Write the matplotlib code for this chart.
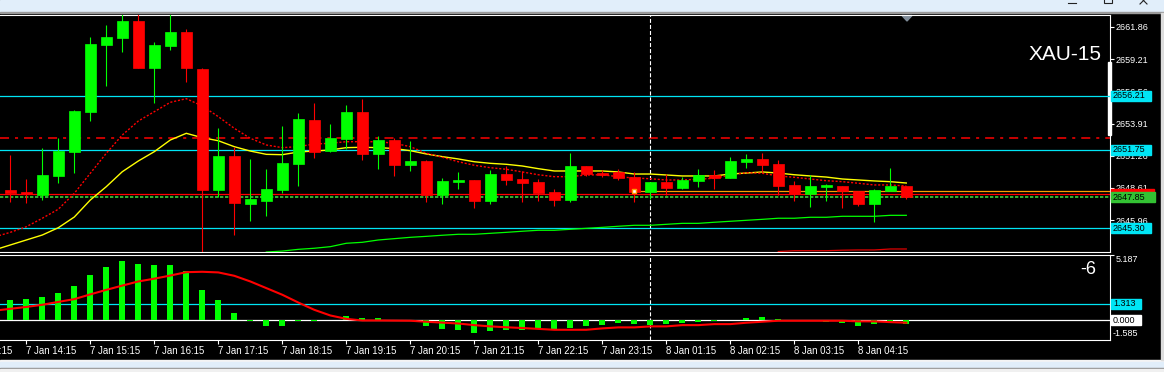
import matplotlib
matplotlib.use('Agg')
import matplotlib.pyplot as plt
from matplotlib.patches import Rectangle, Polygon
from matplotlib.transforms import blended_transform_factory
import numpy as np

plt.rcParams['font.family'] = ['Liberation Sans', 'DejaVu Sans']
plt.rcParams['lines.scale_dashes'] = False

# ---- data (XAU 15 min) ----
opens = [2648.44, 2648.28, 2648.03, 2649.62, 2651.60, 2654.89, 2660.40, 2660.98, 2662.35, 2658.51,
         2660.30, 2661.45, 2658.40, 2648.44, 2651.24, 2647.32, 2647.56, 2648.44, 2650.59, 2654.21,
         2651.68, 2652.64, 2654.86, 2651.43, 2652.56, 2650.53, 2650.83, 2648.06, 2649.13, 2649.27,
         2647.56, 2649.76, 2649.35, 2649.10, 2648.28, 2647.65, 2650.42, 2649.87, 2649.93, 2649.51,
         2648.30, 2649.10, 2648.63, 2649.21, 2649.68, 2649.46, 2650.75, 2651.00, 2650.59, 2648.86,
         2648.11, 2648.72, 2648.77, 2648.36, 2647.32, 2648.36, 2648.80]
closes = [2648.22, 2648.11, 2649.68, 2651.65, 2654.95, 2660.46, 2661.04, 2662.35, 2658.51, 2660.38,
          2661.45, 2658.51, 2648.44, 2651.24, 2647.40, 2647.70, 2648.53, 2650.67, 2654.29, 2651.60,
          2652.72, 2654.86, 2651.43, 2652.56, 2650.53, 2650.83, 2648.06, 2649.19, 2649.27, 2647.56,
          2649.76, 2649.29, 2649.05, 2648.22, 2647.65, 2650.42, 2649.79, 2649.68, 2649.46, 2648.30,
          2649.10, 2648.63, 2649.27, 2649.68, 2649.46, 2650.83, 2651.00, 2650.50, 2648.80, 2648.11,
          2648.77, 2648.86, 2648.36, 2647.32, 2648.44, 2648.80, 2647.85]
highs = [2651.33, 2649.35, 2651.90, 2652.72, 2655.03, 2661.04, 2662.02, 2662.90, 2662.90, 2660.63,
         2662.90, 2661.70, 2658.45, 2653.55, 2652.01, 2651.00, 2650.17, 2653.71, 2654.78, 2655.60,
         2653.88, 2655.44, 2655.93, 2652.89, 2652.72, 2652.48, 2650.91, 2649.46, 2649.93, 2649.27,
         2650.09, 2650.42, 2650.00, 2649.35, 2648.53, 2651.49, 2650.42, 2650.12, 2650.17, 2649.93,
         2649.10, 2649.79, 2649.54, 2650.17, 2650.09, 2651.16, 2651.41, 2651.49, 2650.91, 2649.19,
         2649.68, 2648.96, 2648.77, 2648.36, 2648.53, 2650.28, 2648.80]
lows = [2647.48, 2647.40, 2647.62, 2649.05, 2649.87, 2654.15, 2657.03, 2659.83, 2658.51, 2655.63,
        2659.97, 2657.36, 2643.10, 2647.90, 2644.77, 2645.92, 2646.33, 2648.22, 2648.80, 2651.10,
        2651.60, 2651.82, 2650.94, 2650.20, 2649.62, 2650.03, 2647.48, 2647.32, 2648.55, 2646.99,
        2647.32, 2648.88, 2647.48, 2647.56, 2647.15, 2647.48, 2649.62, 2649.54, 2649.29, 2647.48,
        2647.73, 2648.06, 2648.55, 2648.72, 2648.55, 2649.42, 2650.28, 2649.93, 2648.06, 2647.56,
        2647.07, 2647.56, 2646.99, 2647.15, 2645.84, 2648.36, 2647.73]

# moving averages, first value is the bar before the first visible one
ma_yellow = [2643.51, 2643.92, 2644.33, 2644.74, 2645.34, 2646.22, 2647.62, 2648.72, 2649.95, 2650.83,
             2651.60, 2652.56, 2653.11, 2652.75, 2652.50, 2652.01, 2651.65, 2651.38, 2651.35, 2651.57,
             2651.65, 2651.74, 2651.93, 2651.96, 2651.93, 2651.86, 2651.68, 2651.41, 2651.19, 2651.00,
             2650.77, 2650.64, 2650.56, 2650.42, 2650.20, 2650.01, 2650.01, 2650.01, 2650.01, 2649.93,
             2649.76, 2649.76, 2649.68, 2649.60, 2649.60, 2649.60, 2649.76, 2649.84, 2649.93, 2649.84,
             2649.70, 2649.60, 2649.51, 2649.35, 2649.27, 2649.19, 2649.13, 2649.02]
ma_red = [2644.58, 2644.96, 2645.42, 2646.12, 2646.86, 2648.17, 2649.82, 2651.47, 2652.97, 2654.12,
          2654.89, 2655.66, 2655.96, 2655.36, 2654.48, 2653.52, 2652.70, 2652.15, 2651.93, 2652.01,
          2652.23, 2652.29, 2652.42, 2652.42, 2652.42, 2652.29, 2652.01, 2651.47, 2651.14, 2650.77,
          2650.48, 2650.28, 2650.15, 2649.93, 2649.70, 2649.54, 2649.54, 2649.68, 2649.70, 2649.54,
          2649.43, 2649.37, 2649.27, 2649.27, 2649.33, 2649.41, 2649.68, 2649.87, 2649.82, 2649.60,
          2649.49, 2649.35, 2649.21, 2649.13, 2649.00, 2648.86, 2648.86, 2648.77]
ma_green_start = 16
ma_green = [2643.34, 2643.42, 2643.56, 2643.65, 2643.78, 2644.06, 2644.14, 2644.33, 2644.44, 2644.55,
            2644.63, 2644.72, 2644.80, 2644.80, 2644.88, 2644.96, 2645.05, 2645.13, 2645.13, 2645.21,
            2645.29, 2645.37, 2645.46, 2645.54, 2645.54, 2645.62, 2645.70, 2645.70, 2645.79, 2645.87,
            2645.95, 2646.03, 2646.12, 2646.12, 2646.20, 2646.20, 2646.28, 2646.28, 2646.28, 2646.36,
            2646.36]
ma_dark_start = 48
ma_dark = [2643.38, 2643.45, 2643.45, 2643.45, 2643.49, 2643.51, 2643.51, 2643.59, 2643.59]

# horizontal levels
cyan_levels = [2656.21, 2651.75, 2645.30]
red_dashdot = 2652.72
red_level = 2648.09
last_price = 2647.85
pending_price = 2648.34
pending_bar = 39
separator_bar = 40

price_ticks = [2661.86, 2659.21, 2656.56, 2653.91, 2651.26, 2648.61, 2645.96]

# MACD
macd = [1.62, 1.70, 1.86, 2.18, 2.73, 3.60, 4.25, 4.73, 4.49, 4.41,
        4.41, 3.93, 2.41, 1.62, 0.58, -0.10, -0.50, -0.50, -0.10, -0.10,
        -0.02, 0.30, 0.18, 0.18, 0.02, -0.10, -0.50, -0.70, -0.75, -1.00,
        -0.85, -0.75, -0.75, -0.70, -0.70, -0.60, -0.45, -0.40, -0.27, -0.35,
        -0.37, -0.35, -0.27, -0.19, -0.10, -0.03, 0.19, 0.27, 0.10, 0.02,
        -0.02, -0.16, -0.24, -0.43, -0.32, -0.21, -0.35]
signal = [0.75, 0.90, 1.05, 1.22, 1.45, 1.67, 2.05, 2.41, 2.75, 3.08, 3.30,
          3.55, 3.82, 3.85, 3.80, 3.53, 3.08, 2.55, 2.02, 1.40, 0.82,
          0.37, 0.10, -0.03, -0.03, -0.04, -0.05, -0.13, -0.20, -0.27, -0.40,
          -0.50, -0.57, -0.63, -0.70, -0.77, -0.77, -0.77, -0.66, -0.58, -0.58,
          -0.50, -0.50, -0.40, -0.40, -0.32, -0.32, -0.21, -0.13, -0.05, -0.05,
          -0.05, -0.05, -0.05, -0.10, -0.10, -0.16, -0.21]
macd_level = 1.313
macd_range = (-1.585, 5.187)

time_ticks = [1, 5, 9, 13, 17, 21, 25, 29, 33, 37, 41, 45, 49, 53]
time_labels = ['7 Jan 14:15', '7 Jan 15:15', '7 Jan 16:15', '7 Jan 17:15', '7 Jan 18:15',
               '7 Jan 19:15', '7 Jan 20:15', '7 Jan 21:15', '7 Jan 22:15', '7 Jan 23:15',
               '8 Jan 01:15', '8 Jan 02:15', '8 Jan 03:15', '8 Jan 04:15']

# ---- figure ----
W, H = 1164, 372
fig = plt.figure(figsize=(W / 100, H / 100), dpi=100, facecolor='black')


def fbox(x0, y0, x1, y1):
    return [x0 / W, 1 - y1 / H, (x1 - x0) / W, (y1 - y0) / H]


bg = fig.add_axes([0, 0, 1, 1], zorder=0)
bg.set_xlim(0, W)
bg.set_ylim(H, 0)
bg.axis('off')
# window chrome
bg.add_patch(Rectangle((0, 0), W, 11.5, color='#e1eefa'))
bg.add_patch(Rectangle((0, 11.5), W, 1.5, color='#9a9a9a'))
bg.add_patch(Rectangle((0, 360), W, 1.7, color='#f4f4f4'))
bg.add_patch(Rectangle((0, 361.7), W, 6, color='#e1eefa'))
bg.add_patch(Rectangle((0, 367.7), W, 1.5, color='#8c8c8c'))
bg.add_patch(Rectangle((0, 369.2), W, 3, color='#f0f0f0'))
bg.add_patch(Rectangle((1161, 13), 3, 347, color='#dcdcdc'))
bg.plot([1068, 1076], [2.5, 2.5], color='#222222', lw=0.8)
bg.add_patch(Rectangle((1103.5, -6), 8.5, 9, fill=False, ec='#222222', lw=0.8))
bg.plot([1140, 1147], [-3, 4], color='#222222', lw=0.8)
bg.plot([1147, 1140], [-3, 4], color='#222222', lw=0.8)
bg.add_patch(Rectangle((1108, 62), 3, 73, color='white', zorder=5))
bg.add_patch(Polygon([(902, 15.5), (912, 15.5), (907, 21)], color='#7f8c99', zorder=5))

ax = fig.add_axes(fbox(0, 15, 1110, 252), zorder=2)
ax2 = fig.add_axes(fbox(0, 255, 1110, 340), zorder=2)

xlim = ((0 - 10.3) / 16, (1110 - 10.3) / 16)
for a in (ax, ax2):
    a.set_facecolor('none')
    a.set_xlim(*xlim)
    for s in ('top', 'right', 'bottom'):
        a.spines[s].set_color('white')
        a.spines[s].set_linewidth(0.8)
    a.spines['left'].set_visible(False)

ax.set_ylim(2643.342, 2662.847)
ax2.set_ylim(*macd_range)

# ---- main panel ----
n = len(opens)
idx = np.arange(n)
o = np.array(opens)
c = np.array(closes)
cols = np.where(c >= o, '#00ff00', '#ff0000')

for lvl in cyan_levels:
    ax.axhline(lvl, color='#00e5f5', lw=0.9, zorder=1)
ax.axhline(red_dashdot, color='#ff0000', lw=1.1, ls=(0, (6.5, 4.3, 2.2, 4.3)), zorder=1)
ax.axhline(red_level, color='#ff0000', lw=0.9, zorder=1)
ax.axhline(last_price, color='#33c233', lw=1.3, ls=(0, (2.4, 1.2)), zorder=1)
xfrac = (pending_bar - xlim[0]) / (xlim[1] - xlim[0])
ax.axhline(pending_price, xmin=xfrac, color='#ff9a00', lw=0.9, zorder=1)

ax.axvline(separator_bar, color='white', lw=0.8, ls=(0, (2.9, 1.45)), zorder=1)
ax2.axvline(separator_bar, color='white', lw=0.8, ls=(0, (2.9, 1.45)), zorder=1)

ax.plot(np.arange(-1, n), ma_yellow, color='#ffff00', lw=1.0, zorder=2)
ax.plot(np.arange(-1, n), ma_red, color='#ff0000', lw=1.0, ls=(0, (1.5, 1.3)), zorder=2)
ax.plot(np.arange(ma_green_start, ma_green_start + len(ma_green)), ma_green,
        color='#00ff00', lw=0.9, zorder=2)
ax.plot(np.arange(ma_dark_start, ma_dark_start + len(ma_dark)), ma_dark,
        color='#e00000', lw=0.9, zorder=2)

ax.vlines(idx, lows, highs, colors=cols, lw=0.8, zorder=3)
ax.bar(idx, np.abs(c - o), bottom=np.minimum(o, c), width=0.66,
       color=cols, edgecolor=cols, linewidth=0.5, zorder=4)
ax.plot(pending_bar, pending_price, marker='s', ms=3.5, mfc='white', mec='#ff9a00',
        mew=1.0, zorder=6)

ax.yaxis.tick_right()
ax.set_yticks(price_ticks)
ax.set_yticklabels(['%.2f' % p for p in price_ticks])
ax.tick_params(axis='y', colors='white', labelcolor='white', length=3, width=0.8,
               pad=1, labelsize=6.5)
ax.set_xticks([])

# labels on the price scale
ytr = blended_transform_factory(bg.transData, ax.transData)
hpx = 10 / 12.15


def plabel(a, tr, val, txt, fc, w, h, tc='black'):
    a.add_patch(Rectangle((1111, val - h / 2), w, h, transform=tr, color=fc,
                          clip_on=False, zorder=10))
    a.text(1113, val, txt, transform=tr, color=tc, fontsize=6.5, va='center',
           ha='left', clip_on=False, zorder=11)


for lvl in cyan_levels:
    plabel(ax, ytr, lvl, '%.2f' % lvl, '#00e5f5', 40, hpx)
plabel(ax, ytr, red_level, '', '#ff0000', 43, hpx)
plabel(ax, ytr, last_price, '%.2f' % last_price, '#33c233', 44, hpx)

fig.text(1102 / W, 1 - 54 / H, 'XAU-15', color='white', fontsize=15,
         ha='right', va='center')

# ---- MACD panel ----
ax2.axhline(0, color='white', lw=0.9, zorder=1)
ax2.axhline(macd_level, color='#00e5f5', lw=0.9, zorder=1)
ax2.bar(idx, macd, width=0.38, color='#00ff00', zorder=2)
ax2.plot(np.arange(-1, n), signal, color='#ff0000', lw=1.5, zorder=3)

ax2.yaxis.tick_right()
ax2.set_yticks([macd_range[1]])
ax2.set_yticklabels(['%.3f' % macd_range[1]], va='top')
ax2.tick_params(axis='y', colors='white', labelcolor='white', length=3, width=0.8,
                pad=1, labelsize=6.5)
ytr2 = blended_transform_factory(bg.transData, ax2.transData)
ax2.text(1113, macd_range[0] + 6 / 12.55, '-1.585', transform=ytr2, color='white',
         fontsize=6.5, va='center', ha='left', clip_on=False)
hpx2 = 10 / 12.55
plabel(ax2, ytr2, macd_level, '%.3f' % macd_level, '#00e5f5', 30, hpx2)
plabel(ax2, ytr2, 0.0, '0.000', 'white', 30, hpx2)

fig.text(1096 / W, 1 - 269 / H, '-6', color='white', fontsize=13,
         ha='right', va='center')

ax2.set_xticks(time_ticks)
ax2.set_xticklabels(time_labels)
for lbl in ax2.get_xticklabels():
    lbl.set_ha('left')
ax2.tick_params(axis='x', colors='white', labelcolor='white', length=3, width=0.8,
                pad=1.2, labelsize=6.9)
# the label of the hour before the first visible tick, cut by the window edge
ax2.text(time_ticks[0] - 4, -0.065, '7 Jan 13:15', color='white', fontsize=6.9,
         ha='left', va='top', transform=blended_transform_factory(ax2.transData, ax2.transAxes),
         clip_on=False)

fig.savefig('out.png', dpi=100, facecolor='black')
